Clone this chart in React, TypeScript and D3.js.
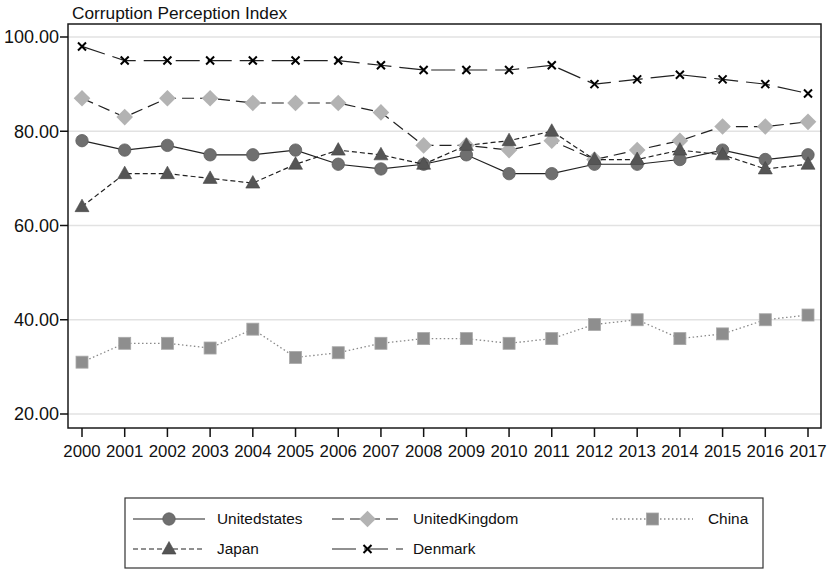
import * as d3 from 'd3'

const YEARS = d3.range(2000, 2018)
const Y_TICKS = [20, 40, 60, 80, 100]

const UNITED_STATES = [78, 76, 77, 75, 75, 76, 73, 72, 73, 75, 71, 71, 73, 73, 74, 76, 74, 75]
const UNITED_KINGDOM = [87, 83, 87, 87, 86, 86, 86, 84, 77, 77, 76, 78, 74, 76, 78, 81, 81, 82]
const CHINA = [31, 35, 35, 34, 38, 32, 33, 35, 36, 36, 35, 36, 39, 40, 36, 37, 40, 41]
const JAPAN = [64, 71, 71, 70, 69, 73, 76, 75, 73, 77, 78, 80, 74, 74, 76, 75, 72, 73]
const DENMARK = [98, 95, 95, 95, 95, 95, 95, 94, 93, 93, 93, 94, 90, 91, 92, 91, 90, 88]

type Marker = 'circle' | 'diamond' | 'square' | 'triangle' | 'cross'

interface Series {
  name: string
  values: number[]
  marker: Marker
  fill: string
  stroke: string
  dash: string
  width: number
}

// drawing order: China first, Denmark last
const SERIES: Series[] = [
  { name: 'China', values: CHINA, marker: 'square', fill: '#8e8e8e', stroke: '#8a8a8a', dash: '1.5 2.5', width: 1.3 },
  { name: 'UnitedKingdom', values: UNITED_KINGDOM, marker: 'diamond', fill: '#b3b3b3', stroke: '#222', dash: '12 6', width: 1.2 },
  { name: 'Unitedstates', values: UNITED_STATES, marker: 'circle', fill: '#6f6f6f', stroke: '#222', dash: '', width: 1.2 },
  { name: 'Japan', values: JAPAN, marker: 'triangle', fill: '#555', stroke: '#222', dash: '5 3', width: 1.2 },
  { name: 'Denmark', values: DENMARK, marker: 'cross', fill: '#000', stroke: '#222', dash: '24 8', width: 1.2 },
]

const LEGEND = [
  { name: 'Unitedstates', col: 0, row: 0 },
  { name: 'UnitedKingdom', col: 1, row: 0 },
  { name: 'China', col: 2, row: 0 },
  { name: 'Japan', col: 0, row: 1 },
  { name: 'Denmark', col: 1, row: 1 },
]

const W = 829
const H = 571
const PLOT = { left: 68, right: 821, top: 24, bottom: 428 }
const FONT = 'Liberation Sans, Arial, sans-serif'

function MarkerShape({ type, x, y, s }: { type: Marker; x: number; y: number; s: Series }) {
  switch (type) {
    case 'circle':
      return <circle cx={x} cy={y} r={6.2} fill={s.fill} stroke="#5e5e5e" strokeWidth={0.8} />
    case 'diamond': {
      const r = 8.3
      return <path d={`M${x},${y - r}L${x + r},${y}L${x},${y + r}L${x - r},${y}Z`} fill={s.fill} />
    }
    case 'square':
      return <rect x={x - 6} y={y - 6} width={12} height={12} fill={s.fill} stroke="#a8a8a8" strokeWidth={0.8} />
    case 'triangle':
      return <path d={`M${x},${y - 7.5}L${x + 7},${y + 5}L${x - 7},${y + 5}Z`} fill={s.fill} stroke="#444" strokeWidth={0.6} />
    case 'cross': {
      const r = 4
      return (
        <path d={`M${x - r},${y - r}L${x + r},${y + r}M${x - r},${y + r}L${x + r},${y - r}`} stroke="#000" strokeWidth={2} />
      )
    }
  }
}

export default function App() {
  const x = d3.scaleLinear().domain([2000, 2017]).range([82, 808])
  const y = d3.scaleLinear().domain([20, 100]).range([414, 37])

  const line = d3.line<number>()
    .x((_, i) => x(YEARS[i]))
    .y(d => y(d))

  const bySeries = new Map(SERIES.map(s => [s.name, s]))
  const colX = [133, 332, 612]
  const colW = [72, 71, 81]
  const textX = [217, 413, 708]
  const rowY = [519, 549]

  return (
    <svg width={W} height={H} style={{ position: 'absolute', left: 0, top: 0, background: '#fff' }} fontFamily={FONT}>
      <rect width={W} height={H} fill="#fff" />

      <text x={72} y={19} fontSize={17.3} fill="#111">Corruption Perception Index</text>

      {/* gridlines */}
      {Y_TICKS.map(t => (
        <line key={t} x1={PLOT.left} x2={PLOT.right} y1={y(t)} y2={y(t)} stroke="#e2e2e2" strokeWidth={1.5} />
      ))}

      {/* plot frame */}
      <rect x={PLOT.left} y={PLOT.top} width={PLOT.right - PLOT.left} height={PLOT.bottom - PLOT.top}
        fill="none" stroke="#1a1a1a" strokeWidth={1.5} />

      {/* y axis */}
      {Y_TICKS.map(t => (
        <g key={t}>
          <line x1={PLOT.left - 8} x2={PLOT.left} y1={y(t)} y2={y(t)} stroke="#111" strokeWidth={1.5} />
          <text x={PLOT.left - 9} y={y(t)} dy="0.35em" textAnchor="end" fontSize={18} fill="#111">
            {d3.format('.2f')(t)}
          </text>
        </g>
      ))}

      {/* x axis */}
      {YEARS.map(yr => (
        <g key={yr}>
          <line x1={x(yr)} x2={x(yr)} y1={PLOT.bottom} y2={PLOT.bottom + 9} stroke="#111" strokeWidth={1.5} />
          <text x={x(yr)} y={457} textAnchor="middle" fontSize={16.8} fill="#111">{yr}</text>
        </g>
      ))}

      {/* series */}
      {SERIES.map(s => (
        <g key={s.name}>
          <path d={line(s.values) ?? ''} fill="none" stroke={s.stroke} strokeWidth={s.width}
            strokeDasharray={s.dash || undefined} />
          {s.values.map((v, i) => (
            <MarkerShape key={i} type={s.marker} x={x(YEARS[i])} y={y(v)} s={s} />
          ))}
        </g>
      ))}

      {/* legend */}
      <rect x={125} y={498} width={638} height={70} fill="#fff" stroke="#333" strokeWidth={1.2} />
      {LEGEND.map(l => {
        const s = bySeries.get(l.name)!
        const x0 = colX[l.col]
        const x1 = x0 + colW[l.col]
        const ly = rowY[l.row]
        return (
          <g key={l.name}>
            <line x1={x0} x2={x1} y1={ly} y2={ly} stroke={s.stroke} strokeWidth={s.width}
              strokeDasharray={s.dash || undefined} />
            <MarkerShape type={s.marker} x={(x0 + x1) / 2} y={ly} s={s} />
            <text x={textX[l.col]} y={ly} dy="0.35em" fontSize={15.4} fill="#111">{l.name}</text>
          </g>
        )
      })}
    </svg>
  )
}
